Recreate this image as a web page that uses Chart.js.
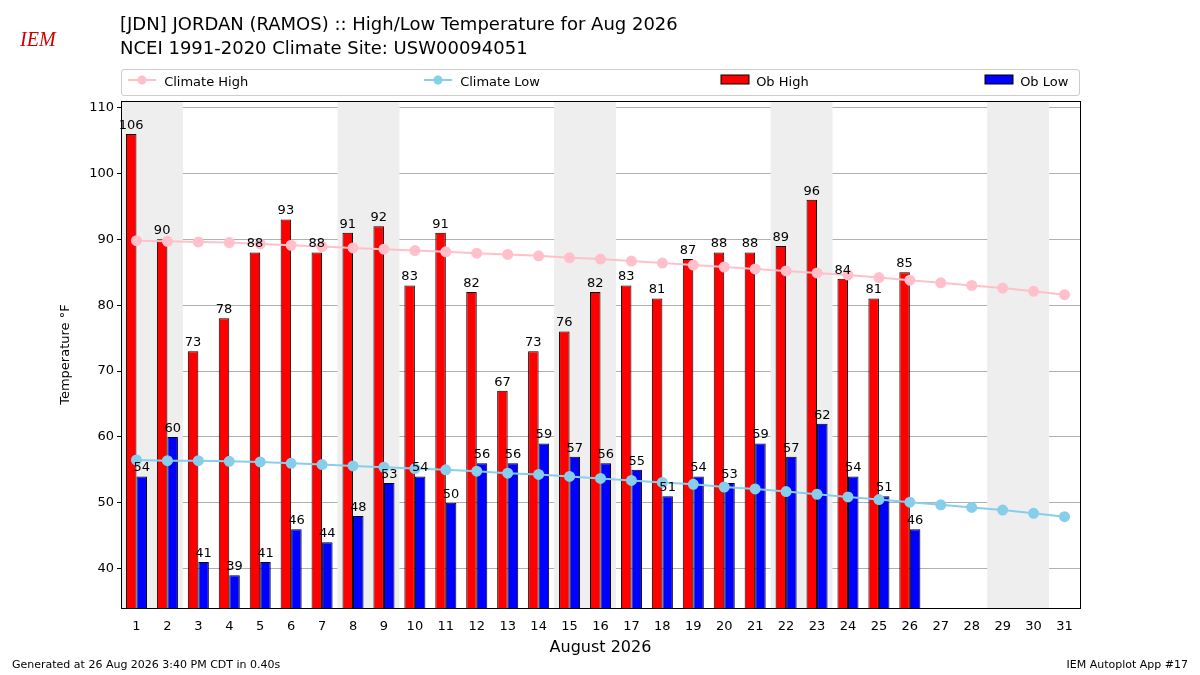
<!DOCTYPE html>
<html><head><meta charset="utf-8">
<script src="https://cdn.jsdelivr.net/npm/chart.js@4"></script>
<style>
body{margin:0;width:1200px;height:675px;position:relative;font-family:"DejaVu Sans",sans-serif;background:#fff;overflow:hidden}
#wrap{position:absolute;left:0;top:0;width:1200px;height:675px}
.t{position:absolute;white-space:nowrap;color:#000}
#legend{position:absolute;left:121px;top:69px;width:957px;height:25px;border:1px solid #ccc;border-radius:3px;font-size:13px}
.li{position:absolute;top:4px}
</style></head><body>
<div id="wrap"><canvas id="c" width="1200" height="675"></canvas></div>
<div class="t" style="left:20px;top:28px;color:#c00;font:italic 20px 'Liberation Serif',serif">IEM</div>
<div class="t" style="left:120px;top:13px;font-size:18px">[JDN] JORDAN (RAMOS) :: High/Low Temperature for Aug 2026</div>
<div class="t" style="left:120px;top:37px;font-size:18px">NCEI 1991-2020 Climate Site: USW00094051</div>
<div id="legend">
 <div class="li" style="left:6px"><svg width="32" height="12"><line x1="0" y1="6" x2="28" y2="6" stroke="pink" stroke-width="2"/><circle cx="14" cy="6" r="4.5" fill="pink"/></svg> Climate High</div>
 <div class="li" style="left:302px"><svg width="32" height="12"><line x1="0" y1="6" x2="28" y2="6" stroke="skyblue" stroke-width="2"/><circle cx="14" cy="6" r="4.5" fill="skyblue"/></svg> Climate Low</div>
 <div class="li" style="left:598px"><svg width="32" height="12"><rect x="1" y="1" width="28" height="9" fill="red" stroke="#000"/></svg> Ob High</div>
 <div class="li" style="left:862px"><svg width="32" height="12"><rect x="1" y="1" width="28" height="9" fill="blue" stroke="#000"/></svg> Ob Low</div>
</div>
<div class="t" style="left:12px;top:658px;font-size:11px">Generated at 26 Aug 2026 3:40 PM CDT in 0.40s</div>
<div class="t" style="right:12px;top:658px;font-size:11px">IEM Autoplot App #17</div>
<script>
var days = [];
for (var d = 1; d <= 31; d++) days.push(String(d));
var obHigh = [106,90,73,78,88,93,88,91,92,83,91,82,67,73,76,82,83,81,87,88,88,89,96,84,81,85];
var obLow = [54,60,41,39,41,46,44,48,53,54,50,56,56,59,57,56,55,51,54,53,59,57,62,54,51,46];
var climHigh = [89.8,89.7,89.6,89.5,89.3,89.1,88.9,88.7,88.5,88.3,88.1,87.9,87.7,87.5,87.2,87.0,86.7,86.4,86.1,85.8,85.5,85.2,84.9,84.6,84.2,83.8,83.4,83.0,82.6,82.1,81.6];
var climLow = [56.5,56.4,56.4,56.3,56.2,56.0,55.8,55.6,55.4,55.2,55.0,54.8,54.5,54.3,54.0,53.7,53.4,53.1,52.8,52.4,52.1,51.7,51.3,50.9,50.5,50.1,49.7,49.3,48.9,48.4,47.9];
var weekendBands = [[1,2],[8,9],[15,16],[22,23],[29,30]];

var bands = {
  id: 'bands',
  beforeDatasetsDraw: function (chart) {
    var x = chart.scales.x, a = chart.chartArea, ctx = chart.ctx;
    var w = x.getPixelForValue(1) - x.getPixelForValue(0);
    ctx.save(); ctx.fillStyle = '#eeeeee';
    weekendBands.forEach(function (b) {
      var l = x.getPixelForValue(b[0] - 1) - w / 2, r = x.getPixelForValue(b[1] - 1) + w / 2;
      ctx.fillRect(l, a.top, r - l, a.bottom - a.top);
    });
    ctx.restore();
  }
};
var labels = {
  id: 'labels',
  afterDatasetsDraw: function (chart) {
    var ctx = chart.ctx, a = chart.chartArea;
    ctx.save(); ctx.fillStyle = '#000'; ctx.font = '13px "DejaVu Sans"';
    ctx.textAlign = 'center'; ctx.textBaseline = 'bottom';
    [2, 3].forEach(function (i) {
      chart.getDatasetMeta(i).data.forEach(function (bar, j) {
        ctx.fillText(chart.data.datasets[i].data[j], bar.x, bar.y - 2);
      });
    });
    ctx.strokeStyle = '#000'; ctx.lineWidth = 1;
    ctx.strokeRect(Math.round(a.left) + 0.5, Math.round(a.top) + 0.5, Math.round(a.right - a.left), Math.round(a.bottom - a.top));
    ctx.restore();
  }
};
Chart.defaults.font.family = '"DejaVu Sans"';
Chart.defaults.color = '#000';
new Chart(document.getElementById('c'), {
  type: 'bar',
  data: {
    labels: days,
    datasets: [
      {type: 'line', label: 'Climate High', data: climHigh, borderColor: 'pink', backgroundColor: 'pink', pointRadius: 4.5, borderWidth: 2, order: 0},
      {type: 'line', label: 'Climate Low', data: climLow, borderColor: 'skyblue', backgroundColor: 'skyblue', pointRadius: 4.5, borderWidth: 2, order: 0},
      {label: 'Ob High', data: obHigh, backgroundColor: 'red', borderColor: '#000', borderWidth: 1, borderSkipped: false, categoryPercentage: 0.68, barPercentage: 1, order: 1},
      {label: 'Ob Low', data: obLow, backgroundColor: 'blue', borderColor: '#000', borderWidth: 1, borderSkipped: false, categoryPercentage: 0.68, barPercentage: 1, order: 1}
    ]
  },
  options: {
    responsive: false, animation: false,
    layout: {padding: {left: 58, right: 120, top: 101, bottom: 18}},
    plugins: {legend: {display: false}, tooltip: {enabled: false}},
    scales: {
      x: {grid: {display: false}, border: {color: '#000'}, ticks: {font: {size: 13}, maxRotation: 0},
          title: {display: true, text: 'August 2026', font: {size: 16}, padding: 0}},
      y: {min: 34, max: 111, border: {color: '#000'},
          grid: {color: '#b0b0b0', drawTicks: true, tickColor: '#000', tickLength: 4},
          afterBuildTicks: function (s) { s.ticks = [40,50,60,70,80,90,100,110].map(function (v) { return {value: v}; }); },
          ticks: {font: {size: 13}},
          title: {display: true, text: 'Temperature °F', font: {size: 13}, padding: 0}, afterFit: function (s) { s.width = 63; }}
    }
  },
  plugins: [bands, labels]
});
</script>
</body></html>
